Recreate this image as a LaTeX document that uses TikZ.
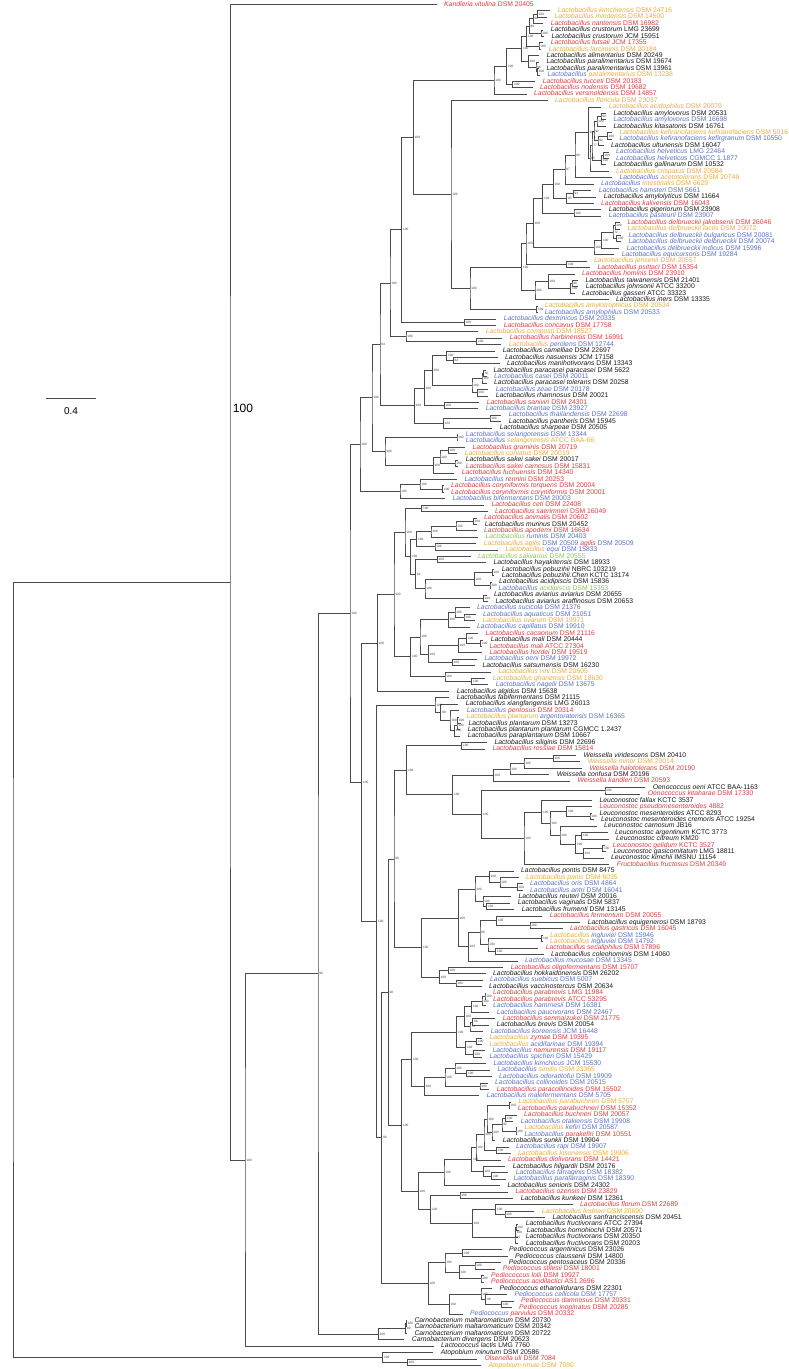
\documentclass[tikz,border=0pt]{standalone}
\usepackage{fontspec}
\setmainfont{Liberation Sans}
\usetikzlibrary{calc}
\definecolor{tred}{RGB}{221,60,62}
\definecolor{tora}{RGB}{234,170,62}
\definecolor{tblu}{RGB}{92,112,196}
\definecolor{tgrn}{RGB}{142,196,86}
\definecolor{tblk}{RGB}{25,25,25}
\definecolor{edgec}{RGB}{75,75,75}
\tikzset{
  leaf/.style={anchor=west, inner xsep=7.5pt, inner ysep=0pt, text height=5pt, text depth=1.4pt, font=\fontsize{6.8}{7}\selectfont},
  branch/.style={draw=edgec, line width=0.75pt},
  boot/.style={anchor=west, inner sep=0pt, xshift=1.2pt, text=black!75, font=\fontsize{3.2}{3.4}\selectfont},
}
\newcommand{\Lb}{Lactobacillus}
\newcommand{\spn}[2]{\textit{#1} #2}
\newcommand{\mx}[3]{\textcolor{#1}{\textit{#2}} #3}
% leaf: index, x of label, colour, text
\newcommand{\leafn}[4]{\node[leaf,text=#3] (l#1) at ({#2-7.5},{4.3+6.42*#1}) {#4};}
% inner node: name, x, first child, last child, support
\newcommand{\inode}[5]{%
  \coordinate (#1m) at ($(#3)!.5!(#4)$);
  \coordinate (#1) at (#2,0 |- #1m);
  \draw[branch] (#3) -| (#1) |- (#4);
  \node[boot] at (#1) {#5};}

\begin{document}
\begin{tikzpicture}[x=1pt,y=-1pt]
\useasboundingbox (0,0) rectangle (788,1369);
% leaves
\leafn{0}{444}{tred}{\spn{Kandleria vitulina}{DSM 20405}}
\leafn{1}{557.7}{tora}{\spn{\Lb{} kimchiensis}{DSM 24716}}
\leafn{2}{554.3}{tora}{\spn{\Lb{} mindensis}{DSM 14500}}
\leafn{3}{550.7}{tred}{\spn{\Lb{} nantensis}{DSM 16982}}
\leafn{4}{550.7}{tblk}{\spn{\Lb{} crustorum}{LMG 23699}}
\leafn{5}{551.3}{tblk}{\spn{\Lb{} crustorum}{JCM 15951}}
\leafn{6}{550.7}{tred}{\spn{\Lb{} futsaii}{JCM 17355}}
\leafn{7}{548.7}{tora}{\spn{\Lb{} farciminis}{DSM 20184}}
\leafn{8}{546.7}{tblk}{\spn{\Lb{} alimentarius}{DSM 20249}}
\leafn{9}{546.3}{tblk}{\spn{\Lb{} paralimentarius}{DSM 19674}}
\leafn{10}{546.3}{tblk}{\spn{\Lb{} paralimentarius}{DSM 13961}}
\leafn{11}{547.3}{tora}{\mx{tblu}{\Lb}{\spn{paralimentarius}{DSM 13238}}}
\leafn{12}{542.7}{tred}{\spn{\Lb{} tucceti}{DSM 20183}}
\leafn{13}{540}{tred}{\spn{\Lb{} nodensis}{DSM 19682}}
\leafn{14}{534}{tred}{\spn{\Lb{} versmoldensis}{DSM 14857}}
\leafn{15}{555}{tora}{\spn{\Lb{} floricola}{DSM 23037}}
\leafn{16}{608.7}{tora}{\spn{\Lb{} acidophilus}{DSM 20079}}
\leafn{17}{613.3}{tblk}{\spn{\Lb{} amylovorus}{DSM 20531}}
\leafn{18}{613.3}{tblu}{\spn{\Lb{} amylovorus}{DSM 16698}}
\leafn{19}{613.3}{tblk}{\spn{\Lb{} kitasatonis}{DSM 16761}}
\leafn{20}{619.3}{tora}{\spn{\Lb{} kefiranofaciens kefiranofaciens}{DSM 5016}}
\leafn{21}{619.3}{tblu}{\spn{\Lb{} kefiranofaciens kefirgranum}{DSM 10550}}
\leafn{22}{611}{tblk}{\spn{\Lb{} ultunensis}{DSM 16047}}
\leafn{23}{616}{tblu}{\spn{\Lb{} helveticus}{LMG 22464}}
\leafn{24}{616}{tblu}{\spn{\Lb{} helveticus}{CGMCC 1.1877}}
\leafn{25}{613.3}{tblk}{\spn{\Lb{} gallinarum}{DSM 10532}}
\leafn{26}{616}{tora}{\spn{\Lb{} crispatus}{DSM 20584}}
\leafn{27}{619.3}{tora}{\mx{tblu}{\Lb}{\spn{acetotolerans}{DSM 20749}}}
\leafn{28}{601}{tora}{\mx{tblu}{\Lb}{\spn{intestinalis}{DSM 6629}}}
\leafn{29}{598.7}{tblu}{\spn{\Lb{} hamsteri}{DSM 5661}}
\leafn{30}{603.7}{tblk}{\spn{\Lb{} amylolyticus}{DSM 11664}}
\leafn{31}{601}{tred}{\spn{\Lb{} kalixensis}{DSM 16043}}
\leafn{32}{608.7}{tblk}{\spn{\Lb{} gigeriorum}{DSM 23908}}
\leafn{33}{608.7}{tblu}{\spn{\Lb{} pasteurii}{DSM 23907}}
\leafn{34}{627.3}{tred}{\spn{\Lb{} delbrueckii jakobsenii}{DSM 26046}}
\leafn{35}{627.3}{tora}{\spn{\Lb{} delbrueckii lactis}{DSM 20072}}
\leafn{36}{628.3}{tblu}{\spn{\Lb{} delbrueckii bulgaricus}{DSM 20081}}
\leafn{37}{628.3}{tblu}{\spn{\Lb{} delbrueckii delbrueckii}{DSM 20074}}
\leafn{38}{626.7}{tblu}{\spn{\Lb{} delbrueckii indicus}{DSM 15996}}
\leafn{39}{621.7}{tblu}{\spn{\Lb{} equicursoris}{DSM 19284}}
\leafn{40}{594}{tora}{\spn{\Lb{} jensenii}{DSM 20557}}
\leafn{41}{597.3}{tred}{\spn{\Lb{} psittaci}{DSM 15354}}
\leafn{42}{582}{tred}{\spn{\Lb{} hominis}{DSM 23910}}
\leafn{43}{585.3}{tblk}{\spn{\Lb{} taiwanensis}{DSM 21401}}
\leafn{44}{585.7}{tblk}{\spn{\Lb{} johnsonii}{ATCC 33200}}
\leafn{45}{582}{tblk}{\spn{\Lb{} gasseri}{ATCC 33323}}
\leafn{46}{616}{tblk}{\spn{\Lb{} iners}{DSM 13335}}
\leafn{47}{544.7}{tora}{\spn{\Lb{} amylotrophicus}{DSM 20534}}
\leafn{48}{544.7}{tblu}{\spn{\Lb{} amylophilus}{DSM 20533}}
\leafn{49}{503.7}{tblu}{\spn{\Lb{} dextrinicus}{DSM 20335}}
\leafn{50}{503.7}{tred}{\spn{\Lb{} concavus}{DSM 17758}}
\leafn{51}{485.7}{tora}{\spn{\Lb{} composti}{DSM 18527}}
\leafn{52}{509.7}{tred}{\spn{\Lb{} harbinensis}{DSM 16991}}
\leafn{53}{508.7}{tblu}{\mx{tora}{\Lb}{\spn{perolens}{DSM 12744}}}
\leafn{54}{502.7}{tblk}{\spn{\Lb{} camelliae}{DSM 22697}}
\leafn{55}{505}{tblk}{\spn{\Lb{} nasuensis}{JCM 17158}}
\leafn{56}{507}{tblk}{\spn{\Lb{} manihotivorans}{DSM 13343}}
\leafn{57}{493.3}{tblk}{\spn{\Lb{} paracasei paracasei}{DSM 5622}}
\leafn{58}{494}{tblu}{\spn{\Lb{} casei}{DSM 20011}}
\leafn{59}{494}{tblk}{\spn{\Lb{} paracasei tolerans}{DSM 20258}}
\leafn{60}{495.7}{tblu}{\spn{\Lb{} zeae}{DSM 20178}}
\leafn{61}{495.7}{tblk}{\spn{\Lb{} rhamnosus}{DSM 20021}}
\leafn{62}{486.7}{tred}{\spn{\Lb{} saniviri}{DSM 24301}}
\leafn{63}{485.7}{tblu}{\spn{\Lb{} brantae}{DSM 23927}}
\leafn{64}{508.7}{tblu}{\spn{\Lb{} thailandensis}{DSM 22698}}
\leafn{65}{508.7}{tblk}{\spn{\Lb{} pantheris}{DSM 15945}}
\leafn{66}{499.7}{tblk}{\spn{\Lb{} sharpeae}{DSM 20505}}
\leafn{67}{465.7}{tblu}{\spn{\Lb{} selangorensis}{DSM 13344}}
\leafn{68}{465.7}{tora}{\mx{tblu}{\Lb}{\spn{selangorensis}{ATCC BAA-66}}}
\leafn{69}{472.3}{tred}{\spn{\Lb{} graminis}{DSM 20719}}
\leafn{70}{464.7}{tora}{\spn{\Lb{} curvatus}{DSM 20019}}
\leafn{71}{465.7}{tblk}{\spn{\Lb{} sakei sakei}{DSM 20017}}
\leafn{72}{465.7}{tred}{\spn{\Lb{} sakei carnosus}{DSM 15831}}
\leafn{73}{461.7}{tred}{\spn{\Lb{} fuchuensis}{DSM 14340}}
\leafn{74}{464.3}{tred}{\mx{tblu}{\Lb}{\spn{rennini}{DSM 20253}}}
\leafn{75}{451}{tred}{\spn{\Lb{} coryniformis torquens}{DSM 20004}}
\leafn{76}{451}{tred}{\spn{\Lb{} coryniformis coryniformis}{DSM 20001}}
\leafn{77}{452.3}{tblu}{\spn{\Lb{} bifermentans}{DSM 20003}}
\leafn{78}{491.3}{tred}{\spn{\Lb{} ceti}{DSM 22408}}
\leafn{79}{495}{tred}{\spn{\Lb{} saerimneri}{DSM 16049}}
\leafn{80}{484}{tred}{\spn{\Lb{} animalis}{DSM 20602}}
\leafn{81}{484.7}{tblk}{\spn{\Lb{} murinus}{DSM 20452}}
\leafn{82}{484}{tred}{\spn{\Lb{} apodemi}{DSM 16634}}
\leafn{83}{485.3}{tblu}{\mx{tgrn}{\Lb}{\spn{ruminis}{DSM 20403}}}
\leafn{84}{483.7}{tblu}{\textcolor{tora}{\textit{\Lb{} agilis}} DSM 20509 \textcolor{tred}{\textit{agilis}} DSM 20509}
\leafn{85}{505.3}{tblu}{\mx{tora}{\Lb}{\spn{equi}{DSM 15833}}}
\leafn{86}{478}{tgrn}{\spn{\Lb{} salivarius}{DSM 20555}}
\leafn{87}{493.3}{tblk}{\spn{\Lb{} hayakitensis}{DSM 18933}}
\leafn{88}{501.7}{tblk}{\spn{\Lb{} pobuzihii}{NBRC 103219}}
\leafn{89}{501.7}{tblk}{\spn{\Lb{} pobuzihii.Chen}{KCTC 13174}}
\leafn{90}{499}{tblk}{\spn{\Lb{} acidipiscis}{DSM 15836}}
\leafn{91}{498.3}{tgrn}{\mx{tblu}{\Lb}{\spn{acidipiscis}{DSM 15353}}}
\leafn{92}{494}{tblk}{\spn{\Lb{} aviarius aviarius}{DSM 20655}}
\leafn{93}{495.3}{tblk}{\spn{\Lb{} aviarius araffinosus}{DSM 20653}}
\leafn{94}{477}{tblu}{\spn{\Lb{} sucicola}{DSM 21376}}
\leafn{95}{483}{tblu}{\spn{\Lb{} aquaticus}{DSM 21051}}
\leafn{96}{482.3}{tora}{\spn{\Lb{} uvarum}{DSM 19971}}
\leafn{97}{477}{tblu}{\spn{\Lb{} capillatus}{DSM 19910}}
\leafn{98}{485.3}{tred}{\spn{\Lb{} cacaonum}{DSM 21116}}
\leafn{99}{490.7}{tblk}{\spn{\Lb{} mali}{DSM 20444}}
\leafn{100}{489.3}{tred}{\spn{\Lb{} mali}{ATCC 27304}}
\leafn{101}{489.3}{tred}{\spn{\Lb{} hordei}{DSM 19519}}
\leafn{102}{484.3}{tblu}{\spn{\Lb{} oeni}{DSM 19972}}
\leafn{103}{482.3}{tblk}{\spn{\Lb{} satsumensis}{DSM 16230}}
\leafn{104}{498.3}{tora}{\spn{\Lb{} vini}{DSM 20605}}
\leafn{105}{492.7}{tora}{\spn{\Lb{} ghanensis}{DSM 18630}}
\leafn{106}{495.7}{tblu}{\spn{\Lb{} nagelii}{DSM 13675}}
\leafn{107}{456.7}{tblk}{\spn{\Lb{} algidus}{DSM 15638}}
\leafn{108}{456.7}{tblk}{\spn{\Lb{} fabifermentans}{DSM 21115}}
\leafn{109}{465.7}{tblk}{\spn{\Lb{} xiangfangensis}{LMG 26013}}
\leafn{110}{466.7}{tred}{\mx{tblu}{\Lb}{\spn{pentosus}{DSM 20314}}}
\leafn{111}{466.7}{tblu}{\mx{tora}{\Lb{} plantarum}{\spn{argentoratensis}{DSM 16365}}}
\leafn{112}{468.3}{tblk}{\spn{\Lb{} plantarum}{DSM 13273}}
\leafn{113}{467.7}{tblk}{\spn{\Lb{} plantarum plantarum}{CGMCC 1.2437}}
\leafn{114}{467.7}{tblk}{\spn{\Lb{} paraplantarum}{DSM 10667}}
\leafn{115}{494.3}{tblk}{\spn{\Lb{} siliginis}{DSM 22696}}
\leafn{116}{492.3}{tred}{\spn{\Lb{} rossiae}{DSM 15814}}
\leafn{117}{583.3}{tblk}{\spn{Weissella viridescens}{DSM 20410}}
\leafn{118}{587.7}{tora}{\spn{Weissella minor}{DSM 20014}}
\leafn{119}{589.3}{tred}{\spn{Weissella halotolerans}{DSM 20190}}
\leafn{120}{556.7}{tblk}{\spn{Weissella confusa}{DSM 20196}}
\leafn{121}{577.3}{tred}{\spn{Weissella kandleri}{DSM 20593}}
\leafn{122}{652.7}{tblk}{\spn{Oenococcus oeni}{ATCC BAA-1163}}
\leafn{123}{647.7}{tred}{\spn{Oenococcus kitaharae}{DSM 17330}}
\leafn{124}{599.3}{tblk}{\spn{Leuconostoc fallax}{KCTC 3537}}
\leafn{125}{599.3}{tred}{\spn{Leuconostoc pseudomesenteroides}{4882}}
\leafn{126}{599.3}{tblk}{\spn{Leuconostoc mesenteroides}{ATCC 8293}}
\leafn{127}{601}{tblk}{\spn{Leuconostoc mesenteroides cremoris}{ATCC 19254}}
\leafn{128}{604}{tblk}{\spn{Leuconostoc carnosum}{JB16}}
\leafn{129}{615}{tblk}{\spn{Leuconostoc argentinum}{KCTC 3773}}
\leafn{130}{616}{tblk}{\spn{Leuconostoc citreum}{KM20}}
\leafn{131}{612.7}{tred}{\spn{Leuconostoc gelidum}{KCTC 3527}}
\leafn{132}{613.3}{tblk}{\spn{Leuconostoc gasicomitatum}{LMG 18811}}
\leafn{133}{611}{tblk}{\spn{Leuconostoc kimchii}{IMSNU 11154}}
\leafn{134}{616.7}{tred}{\spn{Fructobacillus fructosus}{DSM 20349}}
\leafn{135}{521}{tblk}{\spn{\Lb{} pontis}{DSM 8475}}
\leafn{136}{526}{tora}{\spn{\Lb{} panis}{DSM 6035}}
\leafn{137}{530}{tblu}{\spn{\Lb{} oris}{DSM 4864}}
\leafn{138}{530}{tblu}{\spn{\Lb{} antri}{DSM 16041}}
\leafn{139}{518.3}{tblk}{\spn{\Lb{} reuteri}{DSM 20016}}
\leafn{140}{517.7}{tblk}{\spn{\Lb{} vaginalis}{DSM 5837}}
\leafn{141}{521.7}{tblk}{\spn{\Lb{} frumenti}{DSM 13145}}
\leafn{142}{549.7}{tred}{\spn{\Lb{} fermentum}{DSM 20055}}
\leafn{143}{587.7}{tblk}{\spn{\Lb{} equigenerosi}{DSM 18793}}
\leafn{144}{570}{tred}{\spn{\Lb{} gastricus}{DSM 16045}}
\leafn{145}{550}{tblu}{\mx{tora}{\Lb}{\spn{ingluviei}{DSM 15946}}}
\leafn{146}{550}{tblu}{\mx{tora}{\Lb}{\spn{ingluviei}{DSM 14792}}}
\leafn{147}{545.7}{tred}{\spn{\Lb{} secaliphilus}{DSM 17896}}
\leafn{148}{551}{tblk}{\spn{\Lb{} coleohominis}{DSM 14060}}
\leafn{149}{525}{tblu}{\spn{\Lb{} mucosae}{DSM 13345}}
\leafn{150}{510.7}{tred}{\spn{\Lb{} oligofermentans}{DSM 15707}}
\leafn{151}{493}{tblk}{\spn{\Lb{} hokkaidonensis}{DSM 26202}}
\leafn{152}{490}{tblu}{\spn{\Lb{} suebicus}{DSM 5007}}
\leafn{153}{489}{tblk}{\spn{\Lb{} vaccinostercus}{DSM 20634}}
\leafn{154}{493}{tred}{\spn{\Lb{} parabrevis}{LMG 11984}}
\leafn{155}{493}{tred}{\spn{\Lb{} parabrevis}{ATCC 53295}}
\leafn{156}{493}{tblu}{\spn{\Lb{} hammesii}{DSM 16381}}
\leafn{157}{496.7}{tblu}{\spn{\Lb{} paucivorans}{DSM 22467}}
\leafn{158}{502.7}{tred}{\spn{\Lb{} senmaizukei}{DSM 21775}}
\leafn{159}{496.7}{tblk}{\spn{\Lb{} brevis}{DSM 20054}}
\leafn{160}{490.7}{tblu}{\spn{\Lb{} koreensis}{JCM 16448}}
\leafn{161}{489.3}{tred}{\mx{tora}{\Lb}{\spn{zymae}{DSM 19395}}}
\leafn{162}{489.3}{tblu}{\mx{tora}{\Lb}{\spn{acidifarinae}{DSM 19394}}}
\leafn{163}{492.3}{tred}{\mx{tblu}{\Lb}{\spn{namurensis}{DSM 19117}}}
\leafn{164}{489.3}{tblu}{\spn{\Lb{} spicheri}{DSM 15429}}
\leafn{165}{493.3}{tblu}{\spn{\Lb{} kimchicus}{JCM 15530}}
\leafn{166}{497.3}{tora}{\mx{tblu}{\Lb}{\spn{similis}{DSM 23365}}}
\leafn{167}{499}{tblu}{\spn{\Lb{} odoratitofui}{DSM 19909}}
\leafn{168}{495}{tblu}{\spn{\Lb{} collinoides}{DSM 20515}}
\leafn{169}{496.7}{tred}{\spn{\Lb{} paracollinoides}{DSM 15502}}
\leafn{170}{486.7}{tblu}{\spn{\Lb{} malefermentans}{DSM 5705}}
\leafn{171}{518.3}{tora}{\spn{\Lb{} parabuchneri}{DSM 5707}}
\leafn{172}{517.7}{tred}{\spn{\Lb{} parabuchneri}{DSM 15352}}
\leafn{173}{524}{tred}{\spn{\Lb{} buchneri}{DSM 20057}}
\leafn{174}{520.7}{tblu}{\spn{\Lb{} otakiensis}{DSM 19908}}
\leafn{175}{524.3}{tblu}{\mx{tora}{\Lb}{\spn{kefiri}{DSM 20587}}}
\leafn{176}{524.3}{tred}{\mx{tblu}{\Lb}{\spn{parakefiri}{DSM 10551}}}
\leafn{177}{502.7}{tblk}{\spn{\Lb{} sunkii}{DSM 19904}}
\leafn{178}{516}{tblu}{\spn{\Lb{} rapi}{DSM 19907}}
\leafn{179}{518}{tora}{\spn{\Lb{} kisonensis}{DSM 19906}}
\leafn{180}{508}{tred}{\spn{\Lb{} diolivorans}{DSM 14421}}
\leafn{181}{512.7}{tblk}{\spn{\Lb{} hilgardii}{DSM 20176}}
\leafn{182}{515.7}{tblu}{\spn{\Lb{} farraginis}{DSM 18382}}
\leafn{183}{513.3}{tblu}{\spn{\Lb{} parafarraginis}{DSM 18390}}
\leafn{184}{507.3}{tblk}{\spn{\Lb{} senioris}{DSM 24302}}
\leafn{185}{515.3}{tred}{\spn{\Lb{} ozensis}{DSM 23829}}
\leafn{186}{520.7}{tblk}{\spn{\Lb{} kunkeei}{DSM 12361}}
\leafn{187}{580}{tred}{\spn{\Lb{} florum}{DSM 22689}}
\leafn{188}{541.7}{tora}{\spn{\Lb{} lindneri}{DSM 20690}}
\leafn{189}{552.3}{tblk}{\spn{\Lb{} sanfranciscensis}{DSM 20451}}
\leafn{190}{525.7}{tblk}{\spn{\Lb{} fructivorans}{ATCC 27394}}
\leafn{191}{526.7}{tblk}{\spn{\Lb{} homohiochii}{DSM 20571}}
\leafn{192}{525.7}{tblk}{\spn{\Lb{} fructivorans}{DSM 20350}}
\leafn{193}{525.7}{tblk}{\spn{\Lb{} fructivorans}{DSM 20203}}
\leafn{194}{509}{tblk}{\spn{Pediococcus argentinicus}{DSM 23026}}
\leafn{195}{515}{tblk}{\spn{Pediococcus claussenii}{DSM 14800}}
\leafn{196}{508.7}{tblk}{\spn{Pediococcus pentosaceus}{DSM 20336}}
\leafn{197}{502.7}{tred}{\spn{Pediococcus stilesii}{DSM 18001}}
\leafn{198}{491}{tred}{\spn{Pediococcus lolii}{DSM 19927}}
\leafn{199}{491}{tred}{\spn{Pediococcus acidilactici}{AS1 2696}}
\leafn{200}{499.3}{tblk}{\spn{Pediococcus ethanolidurans}{DSM 22301}}
\leafn{201}{514.3}{tblu}{\spn{Pediococcus cellicola}{DSM 17757}}
\leafn{202}{521}{tred}{\spn{Pediococcus damnosus}{DSM 20331}}
\leafn{203}{519}{tred}{\spn{Pediococcus inopinatus}{DSM 20285}}
\leafn{204}{470}{tred}{\mx{tblu}{Pediococcus}{\spn{parvulus}{DSM 20332}}}
\leafn{205}{414.3}{tblk}{\spn{Carnobacterium maltaromaticum}{DSM 20730}}
\leafn{206}{414.3}{tblk}{\spn{Carnobacterium maltaromaticum}{DSM 20342}}
\leafn{207}{414.3}{tblk}{\spn{Carnobacterium maltaromaticum}{DSM 20722}}
\leafn{208}{411.7}{tblk}{\spn{Carnobacterium divergens}{DSM 20623}}
\leafn{209}{441}{tblk}{\spn{Lactococcus lactis}{LMG 7760}}
\leafn{210}{440.7}{tblk}{\spn{Atopobium minutum}{DSM 20586}}
\leafn{211}{484.3}{tred}{\spn{Olsenella uli}{DSM 7084}}
\leafn{212}{488.3}{tora}{\spn{Atopobium rimae}{DSM 7090}}
% sanfranciscensis-type clade at top
\inode{a1}{537.3}{l1}{l2}{100}
\inode{a2}{533.3}{a1}{l3}{90}
\inode{a3}{541}{l4}{l5}{100}
\inode{a4}{529.3}{a2}{a3}{86}
\inode{a5}{539}{l6}{l7}{100}
\inode{a6}{526.7}{a4}{a5}{100}
\inode{a7}{537.5}{l10}{l11}{100}
\inode{a8}{536}{l9}{a7}{96}
\inode{a9}{528.3}{l8}{a8}{100}
\inode{a10}{521.7}{a6}{a9}{100}
\inode{a11}{512.7}{l12}{l13}{100}
\inode{a12}{506.7}{a10}{a11}{100}
\inode{a13}{494}{a12}{l14}{100}
% acidophilus group
\inode{c1}{601}{l17}{l18}{90}
\inode{c2}{597}{c1}{l19}{100}
\inode{c3}{607.3}{l20}{l21}{100}
\inode{c4}{598}{c3}{l22}{92}
\inode{c5}{594}{c2}{c4}{92}
\inode{c6}{603.3}{l23}{l24}{100}
\inode{c7}{601.5}{c6}{l25}{100}
\inode{c8}{592}{c5}{c7}{77}
\inode{c9}{590}{c8}{l26}{85}
\inode{c10}{588.3}{l16}{c9}{100}
\inode{c11}{575}{c10}{l27}{68}
\inode{c12}{565}{c11}{l28}{87}
\inode{c13}{573.3}{l29}{l30}{91}
\inode{c14}{566.7}{c13}{l31}{95}
\inode{c15}{553.3}{c12}{c14}{100}
\inode{c16}{574}{l32}{l33}{100}
\inode{c17}{542.7}{c15}{c16}{100}
\inode{d1}{615}{l34}{l35}{100}
\inode{d2}{616.7}{l36}{l37}{100}
\inode{d3}{613}{d1}{d2}{72}
\inode{d4}{601.7}{d3}{l38}{100}
\inode{d5}{594}{d4}{l39}{100}
\inode{ag2}{533.3}{c17}{d5}{100}
\inode{jp}{566.7}{l40}{l41}{100}
\inode{tj}{572}{l43}{l44}{96}
\inode{tg}{570.7}{tj}{l45}{100}
\inode{hm}{548.3}{l42}{tg}{100}
\inode{hi}{535}{hm}{l46}{100}
\inode{ag3}{526}{ag2}{jp}{100}
\inode{ag1}{521.7}{ag3}{hi}{100}
\inode{am}{536.7}{l47}{l48}{100}
\inode{ag}{470}{ag1}{am}{100}
\inode{fl}{451}{l15}{ag}{100}
\inode{g}{413.3}{a13}{fl}{100}
\inode{dc}{464.3}{l49}{l50}{100}
\inode{h}{401.7}{g}{dc}{100}
\inode{hp}{476.7}{l52}{l53}{100}
\inode{cp}{406}{l51}{hp}{100}
\inode{i}{390}{h}{cp}{100}
% casei group
\inode{k1}{453.3}{l55}{l56}{64}
\inode{k2}{446.7}{l54}{k1}{100}
\inode{p1}{483.5}{l57}{l58}{50}
\inode{p2}{482}{p1}{l59}{100}
\inode{z}{477.3}{l60}{l61}{100}
\inode{pz}{472}{p2}{z}{100}
\inode{k3}{432.3}{k2}{pz}{100}
\inode{sb}{444.3}{l62}{l63}{100}
\inode{k4}{424.3}{k3}{sb}{100}
\inode{tp}{490}{l64}{l65}{100}
\inode{sg}{443.3}{tp}{l66}{100}
\inode{k5}{414.3}{k4}{sg}{100}
\inode{j}{380}{i}{k5}{64}
% sakei group
\inode{s1}{457}{l67}{l68}{100}
\inode{gc}{448.3}{l69}{l70}{100}
\inode{sk}{455}{l71}{l72}{100}
\inode{gs}{440}{gc}{sk}{100}
\inode{gf}{433.3}{gs}{l73}{100}
\inode{sel}{385}{s1}{gf}{100}
\inode{pp}{372}{j}{sel}{100}
\inode{cr}{442.7}{l75}{l76}{100}
\inode{rc}{420}{l74}{cr}{100}
\inode{rcb}{400}{rc}{l77}{100}
\inode{m}{360}{pp}{rcb}{100}
% salivarius group
\inode{u1}{421.7}{l78}{l79}{100}
\inode{y1}{473.3}{l80}{l81}{100}
\inode{y2}{456}{y1}{l82}{100}
\inode{x1}{431}{y2}{l83}{100}
\inode{ae}{435}{l84}{l85}{100}
\inode{w1}{416.7}{x1}{ae}{100}
\inode{sh}{437.3}{l86}{l87}{100}
\inode{pb}{492.3}{l88}{l89}{100}
\inode{ad}{490}{l90}{l91}{100}
\inode{pa}{474.3}{pb}{ad}{100}
\inode{av}{483.3}{l92}{l93}{100}
\inode{z1}{425}{pa}{av}{100}
\inode{s62}{415.7}{sh}{z1}{62}
\inode{v1}{410.7}{w1}{s62}{100}
\inode{u}{405}{u1}{v1}{100}
% vini group
\inode{au}{464}{l95}{l96}{100}
\inode{sa}{455}{l94}{au}{100}
\inode{sac}{448.3}{sa}{l97}{100}
\inode{ml}{480.7}{l99}{l100}{100}
\inode{cm}{466.7}{l98}{ml}{100}
\inode{cmh}{458.3}{cm}{l101}{100}
\inode{os}{452.3}{l102}{l103}{100}
\inode{co}{428.3}{cmh}{os}{100}
\inode{sc}{420}{sac}{co}{100}
\inode{gn}{471.7}{l105}{l106}{100}
\inode{vg}{445}{l104}{gn}{100}
\inode{scv}{410.7}{sc}{vg}{100}
\inode{t}{394}{u}{scv}{100}
\inode{aa}{377.3}{t}{l107}{100}
% plantarum group
\inode{q1}{457.5}{l111}{l112}{100}
\inode{q2}{457}{q1}{l113}{100}
\inode{q3}{454.3}{q2}{l114}{100}
\inode{q4}{450}{l110}{q3}{100}
\inode{q5}{440.7}{l109}{q4}{99}
\inode{q6}{435}{l108}{q5}{100}
% Weissella, Oenococcus, Leuconostoc
\inode{sl}{461.7}{l115}{l116}{100}
\inode{we1}{553.3}{l117}{l118}{100}
\inode{we2}{524}{we1}{l119}{100}
\inode{we3}{510}{we2}{l120}{100}
\inode{we4}{493.3}{we3}{l121}{100}
\inode{oe}{605}{l122}{l123}{100}
\inode{lm1}{590}{l126}{l127}{100}
\inode{lm2}{566.7}{l125}{lm1}{100}
\inode{lc1}{581.7}{l129}{l130}{100}
\inode{lc2}{602.7}{l131}{l132}{100}
\inode{lc3}{583.3}{lc2}{l133}{100}
\inode{lc4}{575.7}{lc1}{lc3}{100}
\inode{lc5}{560}{l128}{lc4}{100}
\inode{le2}{550}{lm2}{lc5}{100}
\inode{le1}{541.7}{l124}{le2}{100}
\inode{lf}{524}{le1}{l134}{100}
\inode{ol}{481.7}{oe}{lf}{100}
\inode{wl}{452.7}{we4}{ol}{100}
\inode{sw}{406.7}{sl}{wl}{100}
% reuteri group
\inode{oa}{517.3}{l137}{l138}{100}
\inode{po}{500}{l136}{oa}{100}
\inode{pn}{489.3}{l135}{po}{100}
\inode{rv1}{486.7}{l140}{l141}{100}
\inode{rv2}{483}{l139}{rv1}{100}
\inode{pr}{475}{pn}{rv2}{100}
\inode{f1}{530}{l143}{l144}{100}
\inode{f2}{496.7}{l142}{f1}{100}
\inode{ig}{541.7}{l145}{l146}{100}
\inode{sc2}{495.7}{l147}{l148}{100}
\inode{f3}{488}{ig}{sc2}{100}
\inode{f4}{480}{f2}{f3}{86}
\inode{fm}{468.3}{f4}{l149}{100}
\inode{r1}{458.3}{pr}{fm}{100}
\inode{oh}{448.3}{l150}{l151}{100}
\inode{sv}{456}{l152}{l153}{100}
\inode{ol2}{439.3}{oh}{sv}{100}
\inode{rr}{421.7}{r1}{ol2}{100}
\inode{q96}{394}{sw}{rr}{96}
% brevis group
\inode{b1}{485}{l154}{l155}{100}
\inode{b2}{482}{b1}{l156}{100}
\inode{b3}{471.7}{b2}{l157}{100}
\inode{b4}{472.7}{l158}{l159}{66}
\inode{b5}{470}{b4}{l160}{76}
\inode{b6}{464.3}{b3}{b5}{100}
\inode{za}{476.7}{l161}{l162}{100}
\inode{ns}{473.3}{l163}{l164}{100}
\inode{zn}{465.7}{za}{ns}{100}
\inode{b7}{456.7}{b6}{zn}{100}
\inode{km1}{466.7}{l166}{l167}{100}
\inode{km2}{455}{l165}{km1}{100}
\inode{cl}{480}{l168}{l169}{100}
\inode{km3}{445}{km2}{cl}{100}
\inode{km4}{424.3}{km3}{l170}{100}
\inode{bk}{411.7}{b7}{km4}{100}
% buchneri group
\inode{bu1}{509.3}{l171}{l172}{100}
\inode{bu2}{505.7}{l173}{l174}{100}
\inode{kp}{516}{l175}{l176}{100}
\inode{bk2}{502}{bu2}{kp}{95}
\inode{bu3}{492}{bk2}{l177}{100}
\inode{bu4}{487}{bu1}{bu3}{100}
\inode{rk}{496.7}{l178}{l179}{100}
\inode{bu5}{484}{bu4}{rk}{100}
\inode{bu6}{476}{bu5}{l180}{100}
\inode{fa1}{491.7}{l182}{l183}{100}
\inode{fa2}{483.3}{l181}{fa1}{100}
\inode{bu7}{471.7}{bu6}{fa2}{100}
\inode{bu8}{444}{bu7}{l184}{100}
\inode{ok}{460}{l185}{l186}{100}
\inode{ls}{505}{l188}{l189}{100}
\inode{fls}{495.7}{l187}{ls}{100}
\inode{fr1}{516}{l190}{l191}{100}
\inode{fr2}{515.5}{fr1}{l192}{100}
\inode{fr3}{515}{fr2}{l193}{94}
\inode{ff}{472.3}{fls}{fr3}{100}
\inode{okf}{430.7}{ok}{ff}{100}
\inode{bf}{418.3}{bu8}{okf}{100}
\inode{bkb}{401.7}{bk}{bf}{100}
% Pediococcus
\inode{pc1}{462.7}{l194}{l195}{100}
\inode{pc2}{475}{l196}{l197}{100}
\inode{pc3}{481}{l198}{l199}{100}
\inode{pc4}{459.3}{pc2}{pc3}{100}
\inode{pc5}{445}{pc1}{pc4}{100}
\inode{pd1}{501.7}{l202}{l203}{100}
\inode{pd2}{485.7}{l201}{pd1}{99}
\inode{pd3}{481}{l200}{pd2}{100}
\inode{pd4}{449.3}{pd3}{l204}{100}
\inode{ped}{428.3}{pc5}{pd4}{100}
% Carnobacterium, Atopobium
\inode{cb1}{406.3}{l205}{l206}{100}
\inode{cb2}{405.8}{cb1}{l207}{80}
\inode{cb3}{378.3}{cb2}{l208}{100}
\inode{at1}{407.3}{l211}{l212}{100}
\inode{at2}{382.7}{l210}{at1}{100}
% backbone
\inode{x98}{388.3}{q96}{bkb}{98}
\inode{pd}{381.7}{x98}{ped}{96}
\inode{bq}{376.7}{q6}{pd}{100}
\inode{bb}{361.7}{aa}{bq}{100}
\inode{n}{350}{m}{bb}{100}
\inode{top}{318}{n}{cb3}{90}
\inode{lab}{245}{top}{l209}{100}
\inode{kk}{230}{l0}{lab}{}
\inode{root}{13}{kk}{at2}{}
\node[font=\fontsize{12}{14}\selectfont] (kkb) at (243,408) {100};
% scale bar
\coordinate (s0) at (46,398);
\coordinate (s1) at (96,398);
\draw[branch] (s0) -- (s1);
\node[font=\fontsize{10}{12}\selectfont] (sbl) at (71,411) {0.4};
\end{tikzpicture}
\end{document}
